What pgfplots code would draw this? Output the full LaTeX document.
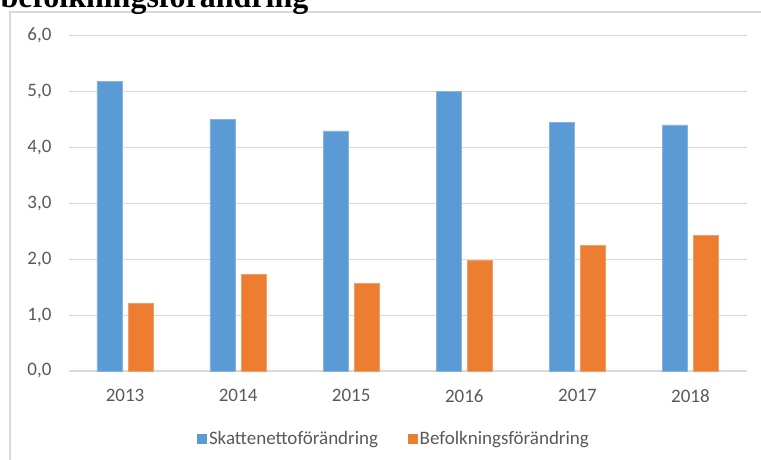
\documentclass[border=0pt]{standalone}
\usepackage{pgfplots}
\pgfplotsset{compat=1.18}
\usepackage{fontspec}
\setmainfont{Carlito}
\newfontfamily\titlefont{Liberation Serif}
\definecolor{barblue}{HTML}{5B9BD5}
\definecolor{barorange}{HTML}{ED7D31}
\definecolor{gridgray}{HTML}{D9D9D9}
\definecolor{textgray}{HTML}{595959}
\begin{document}
\begin{tikzpicture}[x=1pt,y=1pt]
% chart frame
\draw[gridgray, line width=1.3pt] (10,-20) -- (10,447) -- (800,447);
% clipped title
\node[anchor=base west, inner sep=0] at (0.5,451.5) {\titlefont\bfseries\fontsize{32}{36}\selectfont befolkningsförändring};
\begin{axis}[
  at={(68.5pt,88pt)}, anchor=south west,
  scale only axis, width=678.5pt, height=335.7pt,
  xmin=-0.5, xmax=5.5, ymin=0, ymax=6, enlargelimits=false,
  ybar=6.4pt, bar width=25pt,
  xtick={0,1,2,3,4,5},
  xticklabels={2013,2014,2015,2016,2017,2018},
  ytick={0,1,2,3,4,5,6},
  axis x line*=bottom, axis y line*=left,
  y axis line style={draw=none},
  x axis line style={draw=gridgray, line width=1.3pt},
  major tick length=0pt,
  ymajorgrids, grid style={gridgray, line width=1pt},
  /pgf/number format/assume math mode=true,
  yticklabel style={/pgf/number format/use comma, /pgf/number format/fixed, /pgf/number format/fixed zerofill, /pgf/number format/precision=1},
  tick label style={font=\fontsize{19}{23}\selectfont, text=textgray},
  xticklabel style={yshift=-15pt},
  yticklabel style={xshift=-13.5pt},
  legend style={at={(0.48,-0.2026)}, anchor=center, draw=none, fill=none,
    legend columns=2, font=\fontsize{19}{23}\selectfont, text=textgray,
    /tikz/every even column/.append style={column sep=28pt},
    nodes={inner sep=2pt}},
]
\addplot[fill=barblue, draw=barblue!75!white, line width=0.6pt,
  legend image code/.code={\fill[barblue] (0pt,-4.5pt) rectangle (9pt,4.5pt);}]
  coordinates {(0,5.18) (1,4.50) (2,4.29) (3,5.00) (4,4.44) (5,4.40)};
\addlegendentry{Skattenettoförändring}
\addplot[fill=barorange, draw=barorange!75!white, line width=0.6pt,
  legend image code/.code={\fill[barorange] (0pt,-4.5pt) rectangle (9pt,4.5pt);}]
  coordinates {(0,1.21) (1,1.73) (2,1.57) (3,1.97) (4,2.25) (5,2.43)};
\addlegendentry{Befolkningsförändring}
\end{axis}
\pgfresetboundingbox
\useasboundingbox (0,0) rectangle (761,459);
\end{tikzpicture}
\end{document}
